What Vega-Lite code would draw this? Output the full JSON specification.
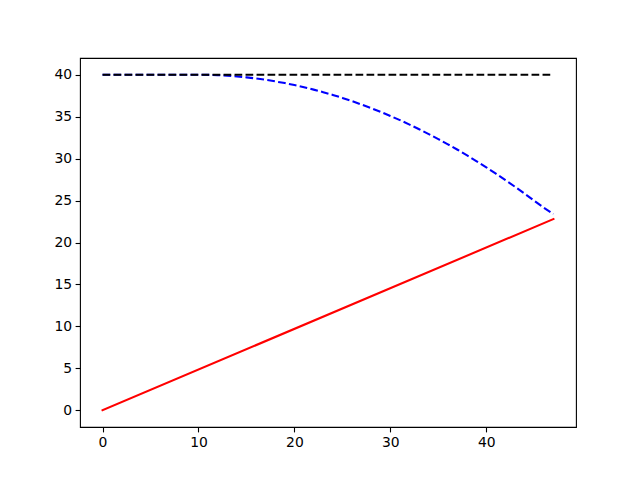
{
  "$schema": "https://vega.github.io/schema/vega-lite/v6.json",
  "width": 496,
  "height": 369,
  "autosize": {"type": "none"},
  "padding": {"left": 80, "top": 58, "right": 64, "bottom": 53},
  "background": "white",
  "config": {
    "view": {"stroke": "black", "strokeWidth": 1.1},
    "axis": {
      "domain": false,
      "grid": false,
      "ticks": true,
      "tickColor": "black",
      "tickSize": 4.9,
      "tickWidth": 1.1,
      "labelFont": "DejaVu Sans",
      "labelFontSize": 13.9,
      "labelColor": "black",
      "labelPadding": 3.5,
      "labelFlush": false,
      "title": null
    }
  },
  "datasets": {
    "lines": [
      {"series": "red", "x": 0, "y": 0},
      {"series": "red", "x": 47, "y": 22.8},
      {"series": "black", "x": 0, "y": 40},
      {"series": "black", "x": 47, "y": 40},
      {"series": "blue", "x": 0, "y": 40},
      {"series": "blue", "x": 1, "y": 40},
      {"series": "blue", "x": 2, "y": 40},
      {"series": "blue", "x": 3, "y": 40},
      {"series": "blue", "x": 4, "y": 40},
      {"series": "blue", "x": 5, "y": 40},
      {"series": "blue", "x": 6, "y": 40},
      {"series": "blue", "x": 7, "y": 40},
      {"series": "blue", "x": 8, "y": 40},
      {"series": "blue", "x": 9, "y": 40},
      {"series": "blue", "x": 10, "y": 40},
      {"series": "blue", "x": 11, "y": 39.99},
      {"series": "blue", "x": 12, "y": 39.95},
      {"series": "blue", "x": 13, "y": 39.89},
      {"series": "blue", "x": 14, "y": 39.8},
      {"series": "blue", "x": 15, "y": 39.69},
      {"series": "blue", "x": 16, "y": 39.56},
      {"series": "blue", "x": 17, "y": 39.4},
      {"series": "blue", "x": 18, "y": 39.21},
      {"series": "blue", "x": 19, "y": 39.01},
      {"series": "blue", "x": 20, "y": 38.77},
      {"series": "blue", "x": 21, "y": 38.52},
      {"series": "blue", "x": 22, "y": 38.23},
      {"series": "blue", "x": 23, "y": 37.93},
      {"series": "blue", "x": 24, "y": 37.6},
      {"series": "blue", "x": 25, "y": 37.24},
      {"series": "blue", "x": 26, "y": 36.86},
      {"series": "blue", "x": 27, "y": 36.45},
      {"series": "blue", "x": 28, "y": 36.02},
      {"series": "blue", "x": 29, "y": 35.57},
      {"series": "blue", "x": 30, "y": 35.09},
      {"series": "blue", "x": 31, "y": 34.59},
      {"series": "blue", "x": 32, "y": 34.06},
      {"series": "blue", "x": 33, "y": 33.51},
      {"series": "blue", "x": 34, "y": 32.93},
      {"series": "blue", "x": 35, "y": 32.33},
      {"series": "blue", "x": 36, "y": 31.71},
      {"series": "blue", "x": 37, "y": 31.06},
      {"series": "blue", "x": 38, "y": 30.38},
      {"series": "blue", "x": 39, "y": 29.68},
      {"series": "blue", "x": 40, "y": 28.96},
      {"series": "blue", "x": 41, "y": 28.21},
      {"series": "blue", "x": 42, "y": 27.44},
      {"series": "blue", "x": 43, "y": 26.64},
      {"series": "blue", "x": 44, "y": 25.82},
      {"series": "blue", "x": 45, "y": 24.97},
      {"series": "blue", "x": 46, "y": 24.15},
      {"series": "blue", "x": 47, "y": 23.4}
    ]
  },
  "data": {"name": "lines"},
  "encoding": {
    "x": {
      "field": "x",
      "type": "quantitative",
      "scale": {"domain": [-2.35, 49.35], "nice": false, "zero": false},
      "axis": {"values": [0, 10, 20, 30, 40]}
    },
    "y": {
      "field": "y",
      "type": "quantitative",
      "scale": {"domain": [-2, 42], "nice": false, "zero": false},
      "axis": {"values": [0, 5, 10, 15, 20, 25, 30, 35, 40]}
    }
  },
  "layer": [
    {
      "transform": [{"filter": "datum.series === 'red'"}],
      "mark": {"type": "line", "color": "#ff0000", "strokeWidth": 2.08, "strokeCap": "square"}
    },
    {
      "transform": [{"filter": "datum.series === 'blue'"}],
      "mark": {"type": "line", "color": "#0000ff", "strokeWidth": 2.08, "strokeDash": [7.7, 3.3]}
    },
    {
      "transform": [{"filter": "datum.series === 'black'"}],
      "mark": {"type": "line", "color": "#000000", "strokeWidth": 2.08, "strokeDash": [7.7, 3.3]}
    }
  ]
}
